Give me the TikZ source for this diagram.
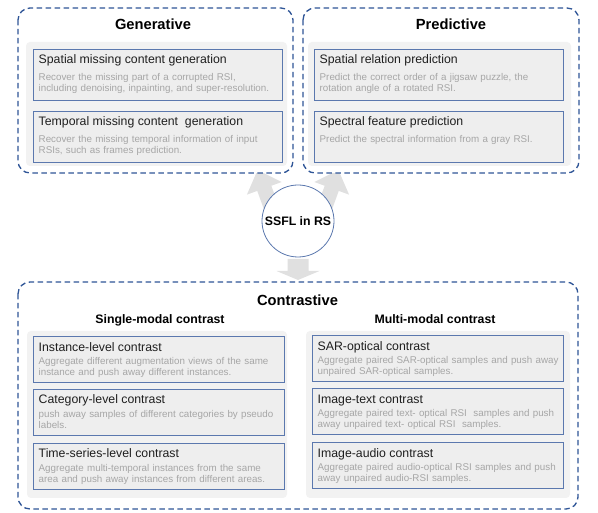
\documentclass[tikz,border=0pt]{standalone}
\usepackage{fontspec}
\setmainfont{Liberation Sans}
\definecolor{dashblue}{HTML}{2F5597}
\definecolor{boxblue}{HTML}{5B78AE}
\definecolor{panelgrey}{HTML}{F2F2F2}
\definecolor{itemgrey}{HTML}{EEEEEE}
\definecolor{descgrey}{HTML}{A6A6A6}
\definecolor{arrowgrey}{HTML}{E0E0E0}
\tikzset{
  group/.style={draw=dashblue, line width=1.3pt, dash pattern=on 5.5pt off 3.5pt, rounded corners=12pt, fill=white},
  panel/.style={fill=panelgrey, rounded corners=4pt},
  itembox/.style={draw=boxblue, line width=1pt, fill=itemgrey, anchor=north west, inner sep=0pt},
  headtext/.style={anchor=base west, inner sep=0pt, text=black!88, font=\fontsize{12.3}{14}\selectfont},
  desctext/.style={anchor=base west, inner sep=0pt, text=descgrey, text width=260pt, align=left, font=\fontsize{9.8}{11}\selectfont},
  grouptitle/.style={anchor=base, inner sep=0pt, font=\bfseries\fontsize{14.7}{17}\selectfont},
  subtitle/.style={anchor=base, inner sep=0pt, font=\bfseries\fontsize{12.3}{14}\selectfont}
}

\begin{document}
\begin{tikzpicture}[x=1pt, y=-1pt]
\useasboundingbox (0,0) rectangle (598,513);

% grey block arrows (tail x/y, angle, length, head length, head half width, shaft half width)
\foreach \bx/\by/\ang/\T/\L/\H/\w in {273/212.3/110/45/19.5/18.5/7.5, 323/212.3/70/45/19.5/18.5/7.5, 298/259/-90/21/9/21.5/10.5}
  \fill[arrowgrey, shift={(\bx,\by)}, rotate=\ang] (0,-\w) -- (\T-\L,-\w) -- (\T-\L,-\H) -- (\T,0) -- (\T-\L,\H) -- (\T-\L,\w) -- (0,\w) -- cycle;

% dashed groups
\draw[group] (18,8) rectangle (293,173); % generative
\draw[group] (303,8) rectangle (579,173); % predictive
\draw[group] (18,282) rectangle (578,509); % contrastive

% grey panels
\fill[panel] (26,42) rectangle (287,166);
\fill[panel] (308,42) rectangle (571,166);
\fill[panel] (27,331) rectangle (287,498);
\fill[panel] (306,331) rectangle (570,498);

% titles
\node[grouptitle] (gentitle) at (153,30) {Generative};
\node[grouptitle] (predtitle) at (451,30) {Predictive};
\node[grouptitle] (contitle) at (297.5,306) {Contrastive};
\node[subtitle] (singletitle) at (160,323.4) {Single-modal contrast};
\node[subtitle] (multititle) at (435,323.4) {Multi-modal contrast};

% items of the upper groups
\foreach \nm/\px/\py/\hd/\ds in {
  g1/33/49/{Spatial missing content generation}/{Recover the missing part of a corrupted RSI,\\including denoising, inpainting, and super-resolution.},
  g2/33/111/{Temporal missing content~ generation}/{Recover the missing temporal information of input\\RSIs, such as frames prediction.},
  p1/314/49/{Spatial relation prediction}/{Predict the correct order of a jigsaw puzzle, the\\rotation angle of a rotated RSI.},
  p2/314/111/{Spectral feature prediction}/{Predict the spectral information from a gray RSI.}}
{
  \node[itembox, minimum width=249pt, minimum height=51pt] (\nm) at (\px,\py) {};
  \node[headtext] (\nm-h) at ([shift={(5.5,14.5)}]\nm.north west) {\hd};
  \node[desctext] (\nm-d) at ([shift={(5.5,32)}]\nm.north west) {\ds};
}

% items of the contrastive group
\foreach \nm/\px/\py/\hd/\ds in {
  s1/33/336.5/{Instance-level contrast}/{Aggregate different augmentation views of the same\\instance and push away different instances.},
  s2/33/389/{Category-level contrast}/{push away samples of different categories by pseudo\\labels.},
  s3/33/443/{Time-series-level contrast}/{Aggregate multi-temporal instances from the same\\area and push away instances from different areas.},
  m1/312/335.5/{SAR-optical contrast}/{Aggregate paired SAR-optical samples and push away\\unpaired SAR-optical samples.},
  m2/312/388.5/{Image-text contrast}/{Aggregate paired text- optical RSI~ samples and push\\away unpaired text- optical RSI~ samples.},
  m3/312/442.5/{Image-audio contrast}/{Aggregate paired audio-optical RSI samples and push\\away unpaired audio-RSI samples.}}
{
  \node[itembox, minimum width=250.5pt, minimum height=46pt] (\nm) at (\px,\py) {};
  \node[headtext] (\nm-h) at ([shift={(5.5,15)}]\nm.north west) {\hd};
  \node[desctext] (\nm-d) at ([shift={(5.5,28.5)}]\nm.north west) {\ds};
}

% centre
\node[circle, draw=boxblue, line width=0.8pt, fill=white, minimum size=72pt, inner sep=0pt, font=\bfseries\fontsize{12.3}{14}\selectfont] (core) at (298,221) {SSFL in RS};
\end{tikzpicture}
\end{document}
